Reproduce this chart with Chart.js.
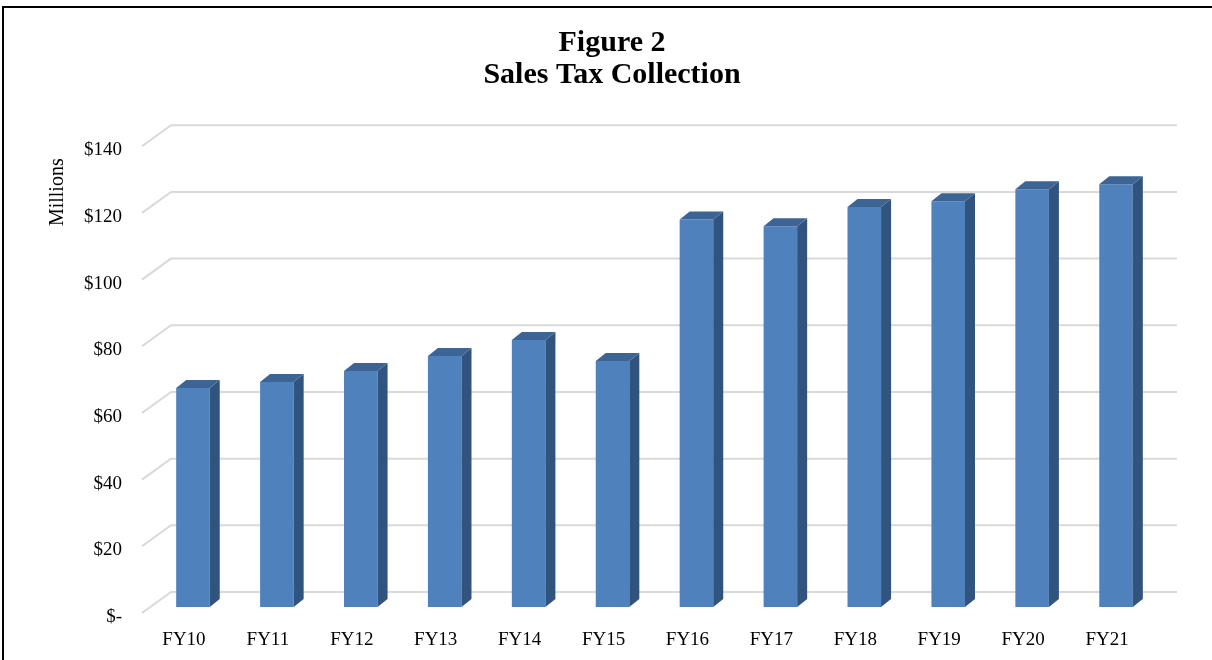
<!DOCTYPE html>
<html>
<head>
<meta charset="utf-8">
<title>Sales Tax Collection</title>
<script src="https://cdn.jsdelivr.net/npm/chart.js@4/dist/chart.umd.min.js"></script>
<style>
  html, body { margin: 0; padding: 0; background: #fff; }
  .wrap { position: relative; width: 1212px; height: 660px; }
  .frame {
    position: absolute; left: 2px; top: 6px; right: 0; bottom: 0;
    border-top: 2px solid #000; border-left: 2px solid #000;
    pointer-events: none;
  }
</style>
</head>
<body>
<div class="wrap">
  <canvas id="grafico" width="1212" height="660"></canvas>
  <div class="frame"></div>
</div>
<script>
// Dados (milhões de dólares)
const anosFiscais = ['FY10', 'FY11', 'FY12', 'FY13', 'FY14', 'FY15', 'FY16', 'FY17', 'FY18', 'FY19', 'FY20', 'FY21'];
const arrecadacao = [65.7, 67.5, 70.8, 75.3, 80.1, 73.8, 116.2, 114.2, 120.0, 121.7, 125.3, 126.8];
const tituloLinhas = ['Figure 2', 'Sales Tax Collection'];
const tituloEixoY = 'Millions';

const fonteSerif = "'Liberation Serif', 'Times New Roman', serif";

// profundidade do efeito 3D
const prof = { dx: 10, dy: 8 };

// parede de fundo com linhas de grade inclinadas
const paredeGrade = {
    id: 'paredeGrade',
    beforeDatasetsDraw(chart) {
        const { ctx, chartArea, scales: { y } } = chart;
        ctx.save();
        ctx.strokeStyle = '#d9d9d9';
        ctx.lineWidth = 2;
        y.ticks.forEach(t => {
            const yp = y.getPixelForValue(t.value) - 15;
            ctx.beginPath();
            ctx.moveTo(chartArea.left - 9, yp + 21);
            ctx.lineTo(chartArea.left + 20, yp);
            ctx.lineTo(chartArea.right + 19, yp);
            ctx.stroke();
        });
        ctx.restore();
    }
};

// faces lateral e superior das barras
const barras3d = {
    id: 'barras3d',
    afterDatasetsDraw(chart) {
        const { ctx } = chart;
        const meta = chart.getDatasetMeta(0);
        ctx.save();
        meta.data.forEach(bar => {
            const { x, y, base, width } = bar.getProps(['x', 'y', 'base', 'width'], true);
            const esq = x - width / 2;
            const dir = x + width / 2;

            ctx.fillStyle = '#31547f';
            ctx.beginPath();
            ctx.moveTo(dir, y);
            ctx.lineTo(dir + prof.dx, y - prof.dy);
            ctx.lineTo(dir + prof.dx, base - prof.dy);
            ctx.lineTo(dir, base);
            ctx.closePath();
            ctx.fill();

            ctx.fillStyle = '#3c6494';
            ctx.beginPath();
            ctx.moveTo(esq, y);
            ctx.lineTo(esq + prof.dx, y - prof.dy);
            ctx.lineTo(dir + prof.dx, y - prof.dy);
            ctx.lineTo(dir, y);
            ctx.closePath();
            ctx.fill();
        });
        ctx.restore();
    }
};

// rótulo vertical do eixo Y
const rotuloEixo = {
    id: 'rotuloEixo',
    afterDraw(chart) {
        const { ctx, chartArea, scales: { y } } = chart;
        ctx.save();
        ctx.translate(y.left - 8, chartArea.top + 52);
        ctx.rotate(-Math.PI / 2);
        ctx.font = '20px ' + fonteSerif;
        ctx.fillStyle = '#000';
        ctx.textAlign = 'center';
        ctx.textBaseline = 'middle';
        ctx.fillText(tituloEixoY, 0, 0);
        ctx.restore();
    }
};

new Chart(document.getElementById('grafico'), {
    type: 'bar',
    data: {
        labels: anosFiscais,
        datasets: [{
            data: arrecadacao,
            backgroundColor: '#4f81bd',
            borderWidth: 0,
            barPercentage: 0.4,
            categoryPercentage: 1
        }]
    },
    options: {
        responsive: false,
        animation: false,
        layout: { padding: { left: 66, right: 54, top: 0, bottom: 0 } },
        plugins: {
            legend: { display: false },
            tooltip: { enabled: false },
            title: {
                display: true,
                text: tituloLinhas,
                color: '#000',
                font: { family: fonteSerif, size: 30, weight: 'bold', lineHeight: 1.07 },
                padding: { top: 27, bottom: 49 }
            }
        },
        scales: {
            x: {
                grid: { display: false, drawTicks: false },
                border: { display: false },
                ticks: {
                    color: '#000',
                    font: { family: fonteSerif, size: 19 },
                    padding: 22,
                    labelOffset: -9,
                    maxRotation: 0
                },
                afterFit(scale) { scale.height = 53; }
            },
            y: {
                min: 0,
                max: 140,
                grid: { display: false, drawTicks: false },
                border: { display: false },
                ticks: {
                    stepSize: 20,
                    color: '#000',
                    font: { family: fonteSerif, size: 19 },
                    padding: 29,
                    labelOffset: 10,
                    callback: v => v === 0 ? '$-' : '$' + v
                },
                afterFit(scale) { scale.width = 85; }
            }
        }
    },
    plugins: [paredeGrade, barras3d, rotuloEixo]
});
</script>
</body>
</html>
